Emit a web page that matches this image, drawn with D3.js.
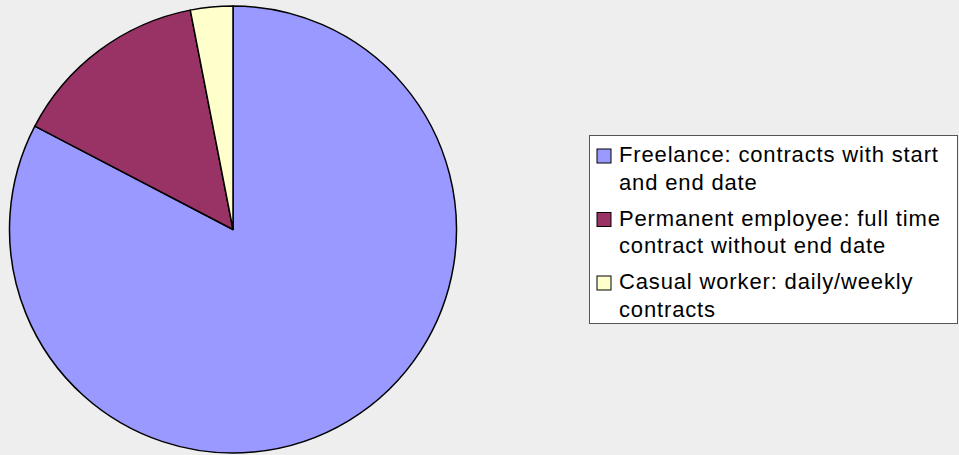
<!DOCTYPE html>
<html>
<head>
<meta charset="utf-8">
<script src="https://cdn.jsdelivr.net/npm/d3@7"></script>
<style>
  body { margin: 0; background: #eeeeee; }
  svg { display: block; }
  text { font-family: "Liberation Sans", Arial, sans-serif; }
</style>
</head>
<body>
<div id="container"></div>
<script>
// values (share of respondents)
var categories = [
    "Freelance: contracts with start and end date",
    "Permanent employee: full time contract without end date",
    "Casual worker: daily/weekly contracts"
];
var legendLines = [
    ["Freelance: contracts with start", "and end date"],
    ["Permanent employee: full time", "contract without end date"],
    ["Casual worker: daily/weekly", "contracts"]
];
var values = [81, 14, 3];
var colors = ["#9999ff", "#993366", "#ffffcc"];

var width = 959, height = 455;
var cx = 233, cy = 229.5, radius = 223.5;

var svg = d3.select("#container").append("svg")
    .attr("width", width)
    .attr("height", height);

svg.append("rect")
    .attr("width", width)
    .attr("height", height)
    .attr("fill", "#eeeeee");

// pie goes clockwise from 12 o'clock, first slice first
var pie = d3.pie().sort(null).value(function(d){ return d; });
var arc = d3.arc().innerRadius(0).outerRadius(radius);

var g = svg.append("g").attr("transform", "translate(" + cx + "," + cy + ")");

g.selectAll("path")
    .data(pie(values))
    .enter().append("path")
    .attr("d", arc)
    .attr("fill", function(d, i){ return colors[i]; })
    .attr("stroke", "#000")
    .attr("stroke-width", 1.5)
    .attr("stroke-linejoin", "round");

// legend
var lx = 589.5, ly = 135.5;
var legend = svg.append("g");

legend.append("rect")
    .attr("x", lx)
    .attr("y", ly)
    .attr("width", 368)
    .attr("height", 188)
    .attr("fill", "#fff")
    .attr("stroke", "#555")
    .attr("stroke-width", 1);

var lineH = 27.5, entryH = 63.5;

var items = legend.selectAll("g.item")
    .data(categories)
    .enter().append("g")
    .attr("class", "item")
    .attr("transform", function(d, i){ return "translate(0," + (i * entryH) + ")"; });

items.append("rect")
    .attr("x", 597)
    .attr("y", 149)
    .attr("width", 14)
    .attr("height", 14)
    .attr("fill", function(d, i){ return colors[i]; })
    .attr("stroke", "#000")
    .attr("stroke-width", 1);

items.each(function(d, i){
    var t = d3.select(this).append("text")
        .attr("x", 619)
        .attr("y", 162)
        .attr("font-size", 22)
        .attr("letter-spacing", 0.85)
        .attr("fill", "#000");
    legendLines[i].forEach(function(line, k){
        t.append("tspan")
            .attr("x", 619)
            .attr("y", 162 + k * lineH)
            .text(line);
    });
});
</script>
</body>
</html>
